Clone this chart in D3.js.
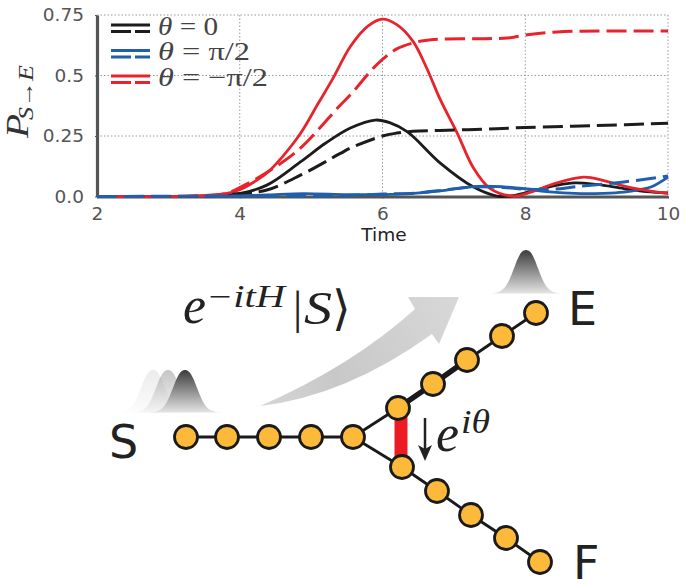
<!DOCTYPE html>
<html>
<head>
<meta charset="utf-8">
<script src="https://cdn.jsdelivr.net/npm/d3@7"></script>
<style>
html, body { margin: 0; padding: 0; background: #fff; }
svg { display: block; }
</style>
</head>
<body>
<svg class="chart"></svg>
<script>
// values
var timesSolidRed = [2, 3, 3.5, 3.8, 4, 4.2, 4.38, 4.6, 4.85, 5.1, 5.31, 5.55, 5.8, 6, 6.2, 6.43, 6.62, 6.81, 7.05, 7.27, 7.5, 7.83, 8.1, 8.4, 8.82, 9.1, 9.4, 9.7, 10];
var solidRed = [0, 0, 0.004, 0.012, 0.028, 0.06, 0.097, 0.165, 0.26, 0.385, 0.49, 0.62, 0.705, 0.733, 0.71, 0.64, 0.53, 0.40, 0.26, 0.12, 0.035, 0.002, 0.02, 0.052, 0.08, 0.066, 0.042, 0.025, 0.012];

var timesSolidBlack = [2, 3, 3.5, 4, 4.38, 4.85, 5.2, 5.55, 5.9, 6.1, 6.35, 6.81, 7.27, 7.6, 7.8, 8, 8.3, 8.68, 9, 9.38, 9.7, 10];
var solidBlack = [0, 0, 0.002, 0.012, 0.047, 0.143, 0.22, 0.283, 0.316, 0.305, 0.267, 0.138, 0.04, 0.002, 0.002, 0.015, 0.038, 0.056, 0.05, 0.033, 0.02, 0.015];

var timesSolidBlue = [2, 3.5, 4, 4.4, 4.9, 5.5, 6, 6.4, 6.81, 7.1, 7.41, 7.7, 8, 8.3, 8.78, 9.1, 9.38, 9.6, 9.77, 10];
var solidBlue = [0, 0, 0.003, 0.007, 0.012, 0.008, 0.008, 0.012, 0.023, 0.035, 0.043, 0.04, 0.032, 0.02, 0.012, 0.013, 0.018, 0.028, 0.04, 0.08];

var timesDashRed = [2, 3, 3.5, 3.8, 4.15, 4.5, 4.85, 5.41, 5.55, 5.87, 6, 6.2, 6.43, 6.6, 6.81, 7.3, 7.75, 8, 8.45, 9.15, 10];
var dashRed = [0, 0, 0.004, 0.012, 0.06, 0.122, 0.2, 0.378, 0.42, 0.53, 0.567, 0.61, 0.635, 0.645, 0.65, 0.652, 0.655, 0.667, 0.68, 0.684, 0.684];

var timesDashBlack = [2, 3, 3.5, 4, 4.38, 4.85, 5.41, 5.55, 6, 6.2, 6.43, 6.8, 7.4, 8, 9, 10];
var dashBlack = [0, 0, 0.002, 0.012, 0.027, 0.088, 0.178, 0.2, 0.25, 0.262, 0.27, 0.273, 0.278, 0.285, 0.293, 0.303];

var timesDashBlue = [2, 4, 5, 5.5, 6, 6.5, 6.9, 7.27, 7.7, 8, 8.4, 8.7, 9.38, 10];
var dashBlue = [0, 0.002, 0.002, 0.004, 0.01, 0.015, 0.028, 0.04, 0.037, 0.03, 0.03, 0.04, 0.06, 0.085];

var xTicks = [2, 4, 6, 8, 10];
var yTicks = [0, 0.25, 0.5, 0.75];
var yTickLabels = ["0.0", "0.25", "0.5", "0.75"];
var legendLabels = ["0", "π/2", "−π/2"];
var legendWidths = [60, 92, 110];
var legendColors = ["#1c1c1c", "#1f5fae", "#e8232c"];

// network diagram, read in pixels of the picture
var stemNodes = [[186, 437], [227, 437], [269, 437], [311, 437], [353, 437]];
var upperNodes = [[398, 408], [433, 384], [467, 360], [502, 336], [536, 313]];
var lowerNodes = [[402, 467], [437, 491], [471, 515], [506, 538], [540, 562]];

// packet outline: offset from centre, fraction of height
var bumpOffsets = [-36, -28, -22, -17, -12, -8, -4, 0, 4, 8, 12, 17, 22, 28, 36];
var bumpHeights = [0, 0.03, 0.12, 0.3, 0.58, 0.81, 0.96, 1, 0.96, 0.81, 0.58, 0.3, 0.12, 0.03, 0];
var bumpCentres = [[153, 0.1], [168, 0.3], [185, 1]];

var svg = d3.select("svg.chart").attr("width", 685).attr("height", 586);
var defs = svg.append("defs");

var x = d3.scaleLinear().domain([2, 10]).range([97, 668]);
var y = d3.scaleLinear().domain([0, 0.75]).range([196.5, 15]);

function makeLine(times) {
    return d3.line()
        .x(function(d, i) { return x(times[i]); })
        .y(function(d) { return y(d); })
        .curve(d3.curveCatmullRom);
}

function drawSeries(times, values, color, width, dash) {
    svg.append("path")
       .datum(values)
       .attr("d", makeLine(times))
       .attr("fill", "none")
       .attr("stroke", color)
       .attr("stroke-width", width)
       .attr("stroke-dasharray", dash);
}

function drawText(parent, x_axis, y_axis, text, font, size, color) {
    return parent.append("text")
        .attr("x", x_axis)
        .attr("y", y_axis)
        .attr("font-family", font)
        .attr("font-size", size)
        .attr("fill", color)
        .text(text);
}

// math text, stretched to the width it has in the picture
function drawMath(parent, x_axis, y_axis, text, size, width) {
    var t = drawText(parent, x_axis, y_axis, text, SERIF, size, "#222").attr("font-style", "italic");
    if (width) t.attr("textLength", width).attr("lengthAdjust", "spacingAndGlyphs");
    return t;
}

var SANS = "'DejaVu Sans'";
var SERIF = "'Liberation Serif'";

// grid
svg.append("g").selectAll("line").data(xTicks.slice(1)).join("line")
   .attr("x1", function(d) { return x(d); })
   .attr("x2", function(d) { return x(d); })
   .attr("y1", y(0.75))
   .attr("y2", y(0))
   .attr("stroke", "#999")
   .attr("stroke-width", 1)
   .attr("stroke-dasharray", "1.5,2");
svg.append("g").selectAll("line").data(yTicks.slice(1)).join("line")
   .attr("x1", x(2))
   .attr("x2", x(10))
   .attr("y1", function(d) { return y(d); })
   .attr("y2", function(d) { return y(d); })
   .attr("stroke", "#999")
   .attr("stroke-width", 1)
   .attr("stroke-dasharray", "1.5,2");

// axes
var xAxis = d3.axisBottom(x).tickValues(xTicks).tickSize(2).tickSizeOuter(0).tickPadding(8);
var yAxis = d3.axisLeft(y).tickValues(yTicks).tickSize(2).tickSizeOuter(0).tickPadding(11)
    .tickFormat(function(d, i) { return yTickLabels[i]; });
var gx = svg.append("g").attr("transform", "translate(0," + y(0) + ")").call(xAxis);
var gy = svg.append("g").attr("transform", "translate(" + x(2) + ",0)").call(yAxis);
[gx, gy].forEach(function(g) {
    g.selectAll("path").attr("stroke", "#555").attr("stroke-width", 3.2);
    g.selectAll("line").attr("stroke", "#555").attr("stroke-width", 1);
    g.selectAll("text").attr("font-family", SANS).attr("font-size", 18.5).attr("fill", "#555");
});

// lines, solid ones under the dashed ones
drawSeries(timesSolidBlack, solidBlack, legendColors[0], 2.8, null);
drawSeries(timesSolidBlue, solidBlue, legendColors[1], 2.8, null);
drawSeries(timesSolidRed, solidRed, legendColors[2], 2.8, null);
drawSeries(timesDashBlack, dashBlack, legendColors[0], 3, "20,7");
drawSeries(timesDashRed, dashRed, legendColors[2], 3, "20,7");
drawSeries(timesDashBlue, dashBlue, legendColors[1], 3, "20,7");

// legend
legendLabels.forEach(function(label, i) {
    var top = 25 + i * 25.5;
    svg.append("line").attr("x1", 111).attr("x2", 150).attr("y1", top).attr("y2", top)
       .attr("stroke", legendColors[i]).attr("stroke-width", 2.8);
    svg.append("line").attr("x1", 111).attr("x2", 150).attr("y1", top + 6.5).attr("y2", top + 6.5)
       .attr("stroke", legendColors[i]).attr("stroke-width", 2.8).attr("stroke-dasharray", "20,4");
    var t = drawText(svg, 158, top + 9.5, "", SERIF, 26, "#444")
        .attr("textLength", legendWidths[i]).attr("lengthAdjust", "spacingAndGlyphs");
    t.append("tspan").attr("font-style", "italic").text("θ");
    t.append("tspan").text(" = " + label);
});

// axis titles
drawText(svg, 384, 241, "Time", SANS, 18.5, "#222").attr("text-anchor", "middle");
var yTitle = svg.append("g").attr("transform", "translate(28,138) rotate(-90)");
drawText(yTitle, 0, 0, "P", SERIF, 31, "#333").attr("font-style", "italic")
    .attr("textLength", 24).attr("lengthAdjust", "spacingAndGlyphs");
drawText(yTitle, 18, 5, "S→E", SERIF, 21, "#333").attr("font-style", "italic")
    .attr("textLength", 55).attr("lengthAdjust", "spacingAndGlyphs");

// wave packets
var bumpGrad = defs.append("linearGradient").attr("id", "bumpGrad")
    .attr("x1", 0).attr("x2", 0).attr("y1", 0).attr("y2", 1);
bumpGrad.append("stop").attr("offset", "0%").attr("stop-color", "#3c3c3c");
bumpGrad.append("stop").attr("offset", "100%").attr("stop-color", "#e4e4e4");

function drawBump(cx, base, height, opacity) {
    var area = d3.area()
        .x(function(d) { return cx + d; })
        .y0(base)
        .y1(function(d, i) { return base - bumpHeights[i] * height; })
        .curve(d3.curveCatmullRom);
    svg.append("path").datum(bumpOffsets).attr("d", area)
       .attr("fill", "url(#bumpGrad)").attr("opacity", opacity);
}
bumpCentres.forEach(function(b) { drawBump(b[0], 412.5, 42.5, b[1]); });
drawBump(526, 293.5, 43.5, 1);

// big curved arrow
var arrowGrad = defs.append("linearGradient").attr("id", "arrowGrad")
    .attr("gradientUnits", "userSpaceOnUse")
    .attr("x1", 260).attr("y1", 406).attr("x2", 459).attr("y2", 297);
arrowGrad.append("stop").attr("offset", "0%").attr("stop-color", "#d6d6d6");
arrowGrad.append("stop").attr("offset", "35%").attr("stop-color", "#c8c8c8");
arrowGrad.append("stop").attr("offset", "100%").attr("stop-color", "#d8d8d8");
svg.append("path")
   .attr("d", "M260,406 Q352,366 415,309 L408,297 L459,297 L439,344 L432,334 Q346,396 260,406 Z")
   .attr("fill", "url(#arrowGrad)");

// formula above the chain
drawMath(svg, 183, 323, "e", 52, 23);
drawMath(svg, 206, 307, "−itH", 31, 79);
drawText(svg, 293, 323, "|", SERIF, 46, "#222");
drawMath(svg, 304, 324, "S", 46, 28);
drawText(svg, 332, 325, "⟩", "'DejaVu Serif'", 48, "#222");

// chain edges
var chain = d3.line().x(function(d) { return d[0]; }).y(function(d) { return d[1]; });
function drawEdges(nodes, width) {
    svg.append("path").attr("d", chain(nodes)).attr("fill", "none")
       .attr("stroke", "#1a1a1a").attr("stroke-width", width);
}
var lastStem = stemNodes[stemNodes.length - 1];
drawEdges(stemNodes, 2.8);
drawEdges([lastStem, upperNodes[0]], 2.8);
drawEdges([lastStem, lowerNodes[0]], 2.8);
drawEdges(upperNodes, 2.8);
drawEdges(upperNodes.slice(0, 3), 5.5);
drawEdges(lowerNodes, 2.8);

// red link
svg.append("path").attr("d", chain([[401, upperNodes[0][1]], [401, lowerNodes[0][1]]])).attr("fill", "none")
   .attr("stroke", "#ed1c24").attr("stroke-width", 13);

// nodes
svg.append("g").selectAll("circle")
   .data(stemNodes.concat(upperNodes, lowerNodes)).join("circle")
   .attr("cx", function(d) { return d[0]; })
   .attr("cy", function(d) { return d[1]; })
   .attr("r", 11.5)
   .attr("fill", "#fdb93a")
   .attr("stroke", "#1a1a1a")
   .attr("stroke-width", 2.8);

// phase arrow
svg.append("line").attr("x1", 425).attr("x2", 425).attr("y1", 418).attr("y2", 450)
   .attr("stroke", "#222").attr("stroke-width", 2.5);
svg.append("path").attr("d", "M418,445 L425,449 L432,445 L425,461 Z").attr("fill", "#222");
drawMath(svg, 436, 451, "e", 52, 23);
drawMath(svg, 461, 433, "iθ", 33, 29);

// site labels
drawText(svg, 568, 325, "E", SANS, 46, "#222");
drawText(svg, 573, 579, "F", SANS, 46, "#222");
drawText(svg, 109, 458, "S", SANS, 46, "#222");
</script>
</body>
</html>
